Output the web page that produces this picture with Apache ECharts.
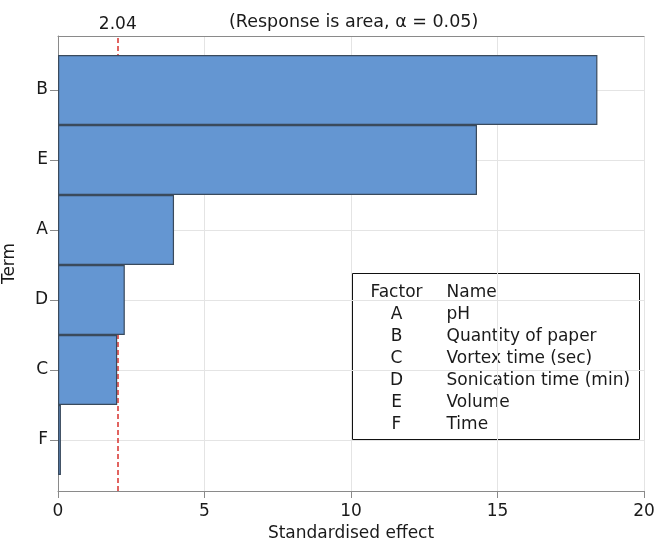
<!DOCTYPE html>
<html>
<head>
<meta charset="utf-8">
<script src="https://cdn.jsdelivr.net/npm/echarts@6/dist/echarts.min.js"></script>
<style>
html,body{margin:0;padding:0;background:#fff;}
#chart{width:655px;height:548px;}
</style>
</head>
<body>
<div id="chart"></div>
<script>
// ---- data ----
const terms = ['B', 'E', 'A', 'D', 'C', 'F'];
const effects = [18.41, 14.3, 3.96, 2.28, 2.02, 0.1];
const criticalValue = 2.04;
const xTickMin = 0, xTickMax = 20, xTickStep = 5;
const factorLetters = ['A', 'B', 'C', 'D', 'E', 'F'];
const factorNames = ['pH', 'Quantity of paper', 'Vortex time (sec)', 'Sonication time (min)', 'Volume', 'Time'];
const subtitle = '(Response is area, \u03b1 = 0.05)';

// ---- chart ----
const FONT = 'DejaVu Sans';
const TXT = '#1a1a1a';
const AXIS = '#8a8a8a';
const GRIDC = '#e4e4e4';

const chart = echarts.init(document.getElementById('chart'), null, {renderer: 'canvas'});

const option = {
  backgroundColor: '#ffffff',
  animation: false,
  textStyle: {fontFamily: FONT},
  title: {
    text: subtitle,
    left: 229,
    top: 13,
    padding: 0,
    textStyle: {fontFamily: FONT, fontSize: 17.5, fontWeight: 'normal', color: TXT}
  },
  grid: [
    {left: 58, right: 11, top: 90, bottom: 108, containLabel: false, outerBoundsMode: 'none'},
    {left: 58, right: 11, top: 36, bottom: 57, containLabel: false, outerBoundsMode: 'none'}
  ],
  xAxis: [
    {
      gridIndex: 0, type: 'value', min: xTickMin, max: xTickMax, show: false
    },
    {
      gridIndex: 1, type: 'value', min: xTickMin, max: xTickMax, interval: xTickStep,
      position: 'bottom',
      name: 'Standardised effect', nameLocation: 'middle', nameGap: 33,
      nameTextStyle: {fontFamily: FONT, fontSize: 17, color: TXT},
      axisLine: {show: true, lineStyle: {color: AXIS, width: 1}},
      axisTick: {show: true, length: 7, lineStyle: {color: AXIS}},
      axisLabel: {fontFamily: FONT, fontSize: 17, color: TXT, margin: 12},
      splitLine: {show: true, lineStyle: {color: GRIDC, width: 1}}
    },
    {
      gridIndex: 1, type: 'value', min: xTickMin, max: xTickMax, position: 'top',
      axisLine: {show: true, onZero: false, lineStyle: {color: AXIS, width: 1}},
      axisTick: {show: false}, axisLabel: {show: false}, splitLine: {show: false}
    }
  ],
  yAxis: [
    {
      gridIndex: 0, type: 'category', data: terms, inverse: true, boundaryGap: false,
      axisLine: {show: false},
      axisTick: {show: true, length: 8, lineStyle: {color: AXIS}},
      axisLabel: {fontFamily: FONT, fontSize: 17, color: TXT, margin: 10, interval: 0},
      splitLine: {show: true, interval: 0, lineStyle: {color: GRIDC, width: 1}}
    },
    {
      gridIndex: 1, type: 'value', min: 0, max: 1,
      name: 'Term', nameLocation: 'middle', nameGap: 40,
      nameTextStyle: {fontFamily: FONT, fontSize: 17, color: TXT},
      axisLine: {show: true, onZero: false, lineStyle: {color: AXIS, width: 1}},
      axisTick: {show: false}, axisLabel: {show: false}, splitLine: {show: false}
    }
  ],
  series: [
    {
      type: 'line', xAxisIndex: 1, yAxisIndex: 1, data: [], z: 1, silent: true,
      markLine: {
        silent: true,
        z: 1,
        symbol: ['none', 'none'],
        animation: false,
        lineStyle: {color: '#d8312d', type: [5, 3], width: 1.5},
        label: {
          show: true, position: 'end', distance: 3,
          formatter: () => criticalValue.toFixed(2),
          fontFamily: FONT, fontSize: 17, color: TXT
        },
        emphasis: {disabled: true},
        data: [{xAxis: criticalValue}]
      }
    },
    {
      type: 'bar', xAxisIndex: 0, yAxisIndex: 0, data: effects, z: 3,
      barCategoryGap: 0, barGap: 0, clip: false, silent: true,
      itemStyle: {color: '#6496d2', borderColor: '#3a4a5c', borderWidth: 1.2}
    }
  ],
  graphic: [
    {
      type: 'group', left: 352, top: 273, silent: true, z: 10,
      children: [
        {type: 'rect', shape: {x: 0, y: 0, width: 287, height: 166},
         style: {fill: '#fff', stroke: '#111', lineWidth: 1}},
        {type: 'text', x: 44, y: 8,
         style: {text: ['Factor'].concat(factorLetters).join('\n'), align: 'center',
                 verticalAlign: 'top', lineHeight: 22, font: '17px "' + FONT + '"', fill: TXT}},
        {type: 'text', x: 94, y: 8,
         style: {text: ['Name'].concat(factorNames).join('\n'), align: 'left',
                 verticalAlign: 'top', lineHeight: 22, font: '17px "' + FONT + '"', fill: TXT}}
      ]
    }
  ]
};
chart.setOption(option);
</script>
</body>
</html>
